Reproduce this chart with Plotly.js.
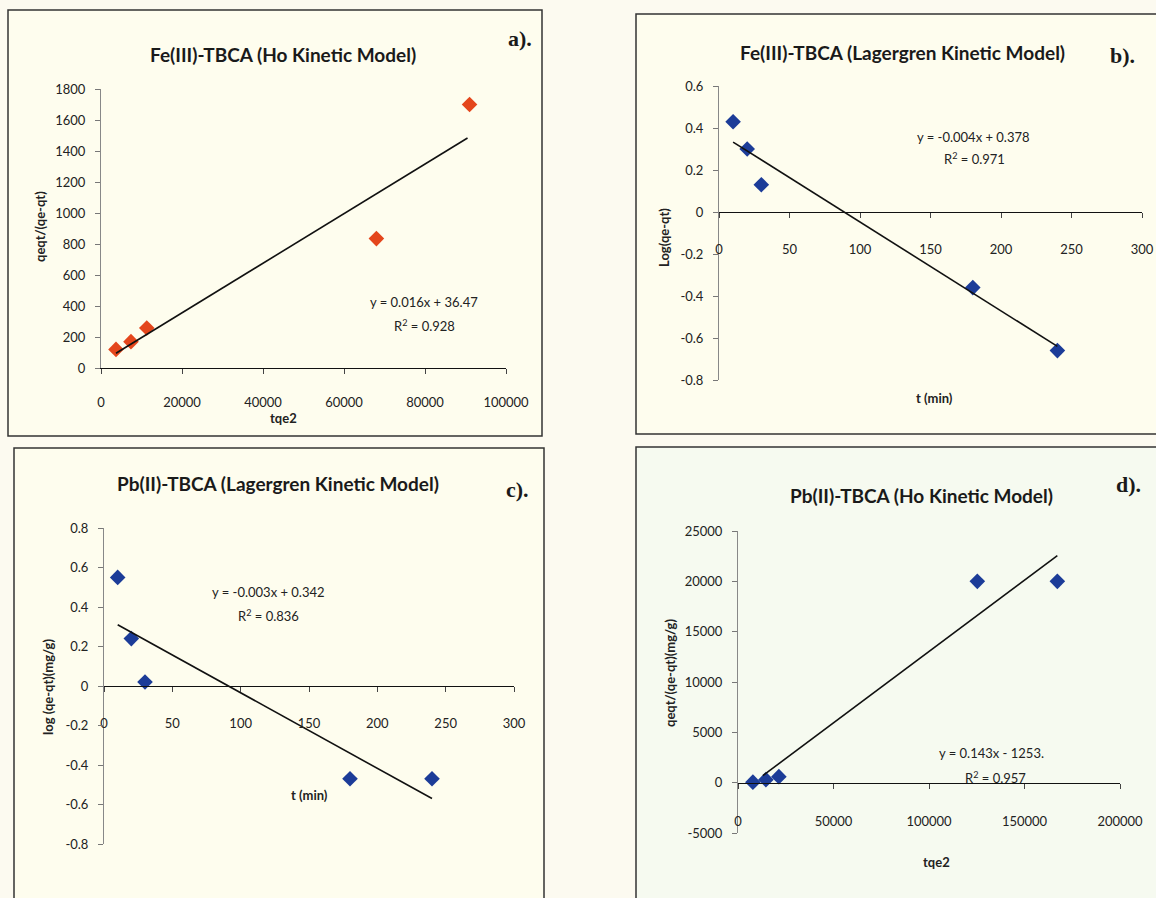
<!DOCTYPE html>
<html><head><meta charset="utf-8">
<script src="https://cdn.plot.ly/plotly-3.0.1.min.js"></script>
<style>html,body{margin:0;padding:0;background:#fcfaf0;}#chart{width:1156px;height:898px;}</style>
</head><body><div id="chart"></div>
<script>
// ---- data ----
const feHoX = [3700, 7400, 11300, 68000, 91000];
const feHoY = [120, 170, 258, 835, 1700];
const feHoTrendX = [3700, 90500];
const feHoTrendY = [95, 1484];

const feLagT = [10, 20, 30, 180, 240];
const feLagY = [0.43, 0.30, 0.13, -0.36, -0.66];
const feLagTrendX = [10, 240];
const feLagTrendY = [0.333, -0.64];

const pbLagT = [10, 20, 30, 180, 240];
const pbLagY = [0.55, 0.24, 0.02, -0.47, -0.47];
const pbLagTrendX = [10, 240];
const pbLagTrendY = [0.31, -0.57];

const pbHoX = [7800, 14600, 21400, 125300, 167200];
const pbHoY = [50, 300, 600, 20000, 20000];
const pbHoTrendX = [13000, 167200];
const pbHoTrendY = [700, 22550];

const tickA_x = [0, 20000, 40000, 60000, 80000, 100000];
const tickA_y = [0, 200, 400, 600, 800, 1000, 1200, 1400, 1600, 1800];
const tickT = [0, 50, 100, 150, 200, 250, 300];
const tickB_y = [0.6, 0.4, 0.2, 0, -0.2, -0.4, -0.6, -0.8];
const tickB_yText = ['0.6', '0.4', '0.2', '0', '-0.2', '-0.4', '-0.6', '-0.8'];
const tickC_y = [0.8, 0.6, 0.4, 0.2, 0, -0.2, -0.4, -0.6, -0.8];
const tickC_yText = ['0.8', '0.6', '0.4', '0.2', '0', '-0.2', '-0.4', '-0.6', '-0.8'];
const tickD_x = [0, 50000, 100000, 150000, 200000];
const tickD_y = [25000, 20000, 15000, 10000, 5000, 0, -5000];
const tickD_yText = ['25000', '20000', '15000', '10000', '5000', '0', '-5000'];

const titles = ['Fe(III)-TBCA (Ho Kinetic Model)', 'Fe(III)-TBCA (Lagergren Kinetic Model)',
                'Pb(II)-TBCA (Lagergren Kinetic Model)', 'Pb(II)-TBCA (Ho Kinetic Model)'];
const letters = ['a).', 'b).', 'c).', 'd).'];
const xTitles = ['tqe2', 't (min)', 't (min)', 'tqe2'];
const yTitles = ['qeqt/(qe-qt)', 'Log(qe-qt)', 'log (qe-qt)(mg/g)', 'qeqt/(qe-qt)(mg/g)'];
const eqs = ['y = 0.016x + 36.47', 'y = -0.004x + 0.378', 'y = -0.003x + 0.342', 'y = 0.143x - 1253.'];
const r2 = ['R<sup>2</sup> = 0.928', 'R<sup>2</sup> = 0.971', 'R<sup>2</sup> = 0.836', 'R<sup>2</sup> = 0.957'];

// ---- layout helpers (pixel -> paper) ----
const W = 1156, H = 898;
const px = v => v / W, py = v => 1 - v / H;
const FONT = 'Lato, Roboto, sans-serif';
const ORANGE = '#e4461c', BLUE = '#1c3c98';

function mk(x, y, xa, ya, color) {
  return {x: x, y: y, xaxis: xa, yaxis: ya, type: 'scatter', mode: 'markers',
    marker: {symbol: 'diamond', size: 12, color: color}, showlegend: false, hoverinfo: 'x+y'};
}
function tl(x, y, xa, ya) {
  return {x: x, y: y, xaxis: xa, yaxis: ya, type: 'scatter', mode: 'lines',
    line: {color: '#111', width: 1.6}, showlegend: false, hoverinfo: 'skip'};
}
const data = [
  mk(feHoX, feHoY, 'x', 'y', ORANGE), tl(feHoTrendX, feHoTrendY, 'x', 'y'),
  mk(feLagT, feLagY, 'x2', 'y2', BLUE), tl(feLagTrendX, feLagTrendY, 'x2', 'y2'),
  mk(pbLagT, pbLagY, 'x3', 'y3', BLUE), tl(pbLagTrendX, pbLagTrendY, 'x3', 'y3'),
  mk(pbHoX, pbHoY, 'x4', 'y4', BLUE), tl(pbHoTrendX, pbHoTrendY, 'x4', 'y4')
];

const TF = {family: FONT, size: 13, color: '#222'};
const xbase = {showgrid: false, zeroline: false, showline: true, linecolor: '#111', linewidth: 1.3,
  ticks: 'outside', ticklen: 5, tickcolor: '#444', tickfont: TF,
  ticklabelstandoff: 17, fixedrange: true};
const ybase = {showgrid: false, zeroline: false, showline: true, linecolor: '#888', linewidth: 1,
  ticks: 'outside', ticklen: 5, tickcolor: '#777', tickfont: TF,
  ticklabelstandoff: 7, fixedrange: true};

const layout = {
  width: W, height: H, margin: {l: 0, r: 0, t: 0, b: 0},
  paper_bgcolor: '#fcfaf0', plot_bgcolor: 'rgba(0,0,0,0)', showlegend: false,
  font: {family: FONT},
  xaxis: Object.assign({}, xbase, {domain: [px(101), px(506)], range: [0, 100000], anchor: 'y',
    tickvals: tickA_x, tickformat: 'd'}),
  yaxis: Object.assign({}, ybase, {domain: [py(368), py(89)], range: [0, 1800], anchor: 'x',
    tickvals: tickA_y, tickformat: 'd'}),
  xaxis2: Object.assign({}, xbase, {domain: [px(719), px(1142)], range: [0, 300], anchor: 'free',
    position: py(212), tickvals: tickT, ticklabelstandoff: 20}),
  yaxis2: Object.assign({}, ybase, {domain: [py(380), py(86)], range: [-0.8, 0.6], anchor: 'x2',
    tickvals: tickB_y, ticktext: tickB_yText}),
  xaxis3: Object.assign({}, xbase, {domain: [px(104), px(514)], range: [0, 300], anchor: 'free',
    position: py(686), tickvals: tickT, ticklabelstandoff: 20}),
  yaxis3: Object.assign({}, ybase, {domain: [py(844), py(528)], range: [-0.8, 0.8], anchor: 'x3',
    tickvals: tickC_y, ticktext: tickC_yText}),
  xaxis4: Object.assign({}, xbase, {domain: [px(738), px(1120)], range: [0, 200000], anchor: 'free',
    position: py(783), tickvals: tickD_x, tickformat: 'd', ticklabelstandoff: 21}),
  yaxis4: Object.assign({}, ybase, {domain: [py(833), py(531)], range: [-5000, 25000], anchor: 'x4',
    tickvals: tickD_y, ticktext: tickD_yText}),
  shapes: [
    {type: 'rect', xref: 'paper', yref: 'paper', x0: px(8), x1: px(542), y0: py(436), y1: py(10),
      line: {color: '#333', width: 1.5}, fillcolor: 'rgba(255,253,236,0.7)', layer: 'below'},
    {type: 'rect', xref: 'paper', yref: 'paper', x0: px(636), x1: px(1162), y0: py(434), y1: py(14),
      line: {color: '#333', width: 1.5}, fillcolor: 'rgba(255,253,236,0.7)', layer: 'below'},
    {type: 'rect', xref: 'paper', yref: 'paper', x0: px(14), x1: px(544), y0: py(904), y1: py(448),
      line: {color: '#333', width: 1.5}, fillcolor: 'rgba(255,253,236,0.7)', layer: 'below'},
    {type: 'rect', xref: 'paper', yref: 'paper', x0: px(636), x1: px(1162), y0: py(904), y1: py(447),
      line: {color: '#333', width: 1.5}, fillcolor: 'rgba(244,250,240,0.7)', layer: 'below'}
  ],
  annotations: []
};

function ann(text, xpix, ypix, opts) {
  layout.annotations.push(Object.assign({text: text, xref: 'paper', yref: 'paper', x: px(xpix), y: py(ypix),
    xanchor: 'center', yanchor: 'middle', showarrow: false,
    font: {family: FONT, size: 13, color: '#222'}}, opts || {}));
}
const titlePos = [[283, 54], [902, 53], [278, 483], [921, 495]];
const letterPos = [[520, 38], [1122, 55], [517, 489], [1128, 484]];
const xtPos = [[283, 418], [934, 398], [309, 795], [936, 862]];
const ytPos = [[40, 227], [664, 238], [48, 687], [670, 673]];
const eqPos = [[424, 302], [973, 137], [268, 592], [991, 753]];
const r2Pos = [[424, 325], [974, 159], [268, 615], [995, 777]];
for (let i = 0; i < 4; i++) {
  ann('<b>' + titles[i] + '</b>', titlePos[i][0], titlePos[i][1], {font: {family: FONT, size: 19, color: '#1a1a1a'}});
  ann('<b>' + letters[i] + '</b>', letterPos[i][0], letterPos[i][1], {font: {family: 'Liberation Serif, DejaVu Serif, serif', size: 22, color: '#1a1a1a'}});
  ann('<b>' + xTitles[i] + '</b>', xtPos[i][0], xtPos[i][1], {font: {family: FONT, size: 13, color: '#222'}});
  ann('<b>' + yTitles[i] + '</b>', ytPos[i][0], ytPos[i][1], {textangle: -90, font: {family: FONT, size: 13, color: '#222'}});
  ann(eqs[i], eqPos[i][0], eqPos[i][1], {font: {family: FONT, size: 13, color: '#222'}});
  ann(r2[i], r2Pos[i][0], r2Pos[i][1], {font: {family: FONT, size: 13, color: '#222'}});
}

Plotly.newPlot('chart', data, layout, {displayModeBar: false, staticPlot: true});
</script></body></html>
